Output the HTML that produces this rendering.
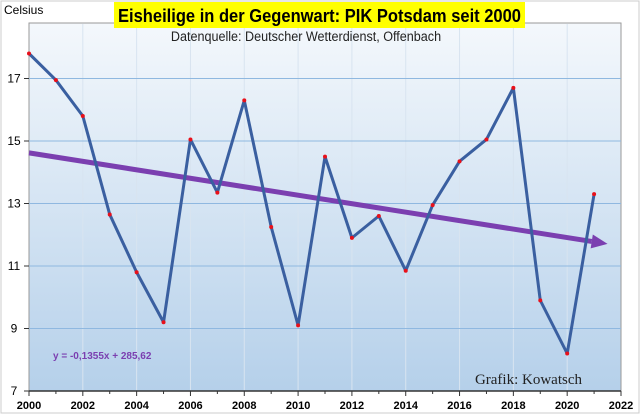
<!DOCTYPE html>
<html><head><meta charset="utf-8"><style>
body{margin:0;background:#fff;}
svg{display:block;font-family:"Liberation Sans",sans-serif;}
</style></head><body>
<svg id="c" width="640" height="414">
<defs>
<linearGradient id="bg" x1="0" y1="0" x2="0" y2="1">
<stop offset="0" stop-color="#f4f8fc"/><stop offset="1" stop-color="#b5d0ea"/></linearGradient>
</defs>
<rect x="1" y="1" width="638" height="412" fill="#fff" stroke="#ccc"/>
<rect x="29" y="23" width="592" height="368" fill="url(#bg)" stroke="#999"/>
<g id="grid"></g>
<g id="axes"></g>
<g id="marks"></g>
<text x="4" y="14" font-size="12" fill="#000">Celsius</text>
<rect x="114" y="2" width="411" height="26" fill="#ffff00"/>
<text x="118" y="22" font-size="18" font-weight="bold" textLength="403" lengthAdjust="spacingAndGlyphs">Eisheilige in der Gegenwart: PIK Potsdam seit 2000</text>
<text x="306" y="41" font-size="14" text-anchor="middle" fill="#222" transform="translate(306 0) scale(0.9 1) translate(-306 0)">Datenquelle: Deutscher Wetterdienst, Offenbach</text>
<text x="53" y="359" font-size="10" font-weight="bold" fill="#7b3fb0">y = -0,1355x + 285,62</text>
<text x="582" y="384" font-size="15" font-family="Liberation Serif" text-anchor="end" fill="#222">Grafik: Kowatsch</text>
</svg>
<script>
const years=[2000,2001,2002,2003,2004,2005,2006,2007,2008,2009,2010,2011,2012,2013,2014,2015,2016,2017,2018,2019,2020,2021];
const temps=[17.8,16.95,15.8,12.65,10.8,9.2,15.05,13.35,16.3,12.25,9.1,14.5,11.9,12.6,10.85,12.95,14.35,15.05,16.7,9.9,8.2,13.3];
const yTicks=[7,9,11,13,15,17];
const xTicks=[2000,2002,2004,2006,2008,2010,2012,2014,2016,2018,2020,2022];
const trendSlope=-0.1355, trendIntercept=285.62;
const X=v=>29+(v-2000)*(592/22);
const Y=v=>391-(v-7)*31.25;
const NS='http://www.w3.org/2000/svg';
function mk(p,t,a){const e=document.createElementNS(NS,t);for(const k in a)e.setAttribute(k,a[k]);document.getElementById(p).appendChild(e);return e;}
xTicks.forEach(t=>{
 if(t>2000&&t<2022){const g=mk('grid','line',{x1:X(t),x2:X(t),y1:24,y2:390,stroke:'#d8e4f0','stroke-width':1});
 }
 const l=mk('axes','text',{x:X(t),y:409,'font-size':11,'font-weight':'bold','text-anchor':'middle'});l.textContent=t;
 
});
for(let y=2000;y<=2022;y++){const tk=mk('axes','line',{x1:X(y),x2:X(y),y1:391,y2:y%2?394:396,stroke:'#333'});
 }
yTicks.forEach(t=>{
 if(t>7){const g=mk('grid','line',{x1:29,x2:621,y1:Y(t),y2:Y(t),stroke:'#8fb8e0','stroke-width':1});
 }
 const tk=mk('axes','line',{x1:24,x2:29,y1:Y(t),y2:Y(t),stroke:'#333'});
 
 const l=mk('axes','text',{x:14,y:Y(t)+4,'font-size':12,'text-anchor':'middle'});l.textContent=t;
 
});
const ax=mk('axes','line',{x1:29,x2:621,y1:391,y2:391,stroke:'#333','stroke-width':1.5});

const tx0=2000,tx1=2021.5;
const x0=X(tx0),y0=Y(trendSlope*tx0+trendIntercept),x1=X(tx1),y1=Y(trendSlope*tx1+trendIntercept);
const L=Math.hypot(x1-x0,y1-y0),ux=(x1-x0)/L,uy=(y1-y0)/L,hl=16,hw=7;
const bx=x1-ux*hl,by=y1-uy*hl;
const tr=mk('marks','line',{x1:x0,y1:y0,x2:bx,y2:by,stroke:'#7b3fb0','stroke-width':5});

const hd=mk('marks','polygon',{points:`${x1},${y1} ${bx-uy*hw},${by+ux*hw} ${bx+uy*hw},${by-ux*hw}`,fill:'#7b3fb0'});

const ln=mk('marks','polyline',{points:years.map((y,i)=>X(y)+','+Y(temps[i])).join(' '),fill:'none',stroke:'#3a5fa0','stroke-width':3,'stroke-linejoin':'round'});

years.forEach((y,i)=>{const c=mk('marks','circle',{cx:X(y),cy:Y(temps[i]),r:2,fill:'#e8101a'});
 });
</script>
</body></html>
